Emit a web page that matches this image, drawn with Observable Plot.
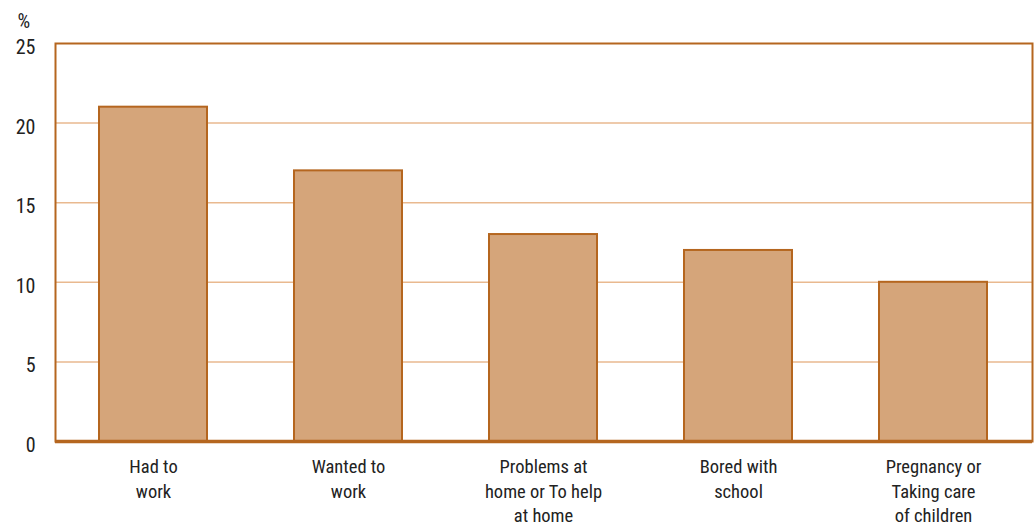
<!DOCTYPE html>
<html>
<head>
<meta charset="utf-8">
<script src="https://cdn.jsdelivr.net/npm/d3@7"></script>
<script src="https://cdn.jsdelivr.net/npm/@observablehq/plot@0.6"></script>
<style>
  html, body { margin: 0; padding: 0; background: #fff; }
  svg { display: block; }
</style>
</head>
<body>
<div id="chart"></div>
<script>
const categories = [
  "Had to\nwork",
  "Wanted to\nwork",
  "Problems at\nhome or To help\nat home",
  "Bored with\nschool",
  "Pregnancy or\nTaking care\nof children"
];
const values = [21, 17, 13, 12, 10];
const yTicks = [0, 5, 10, 15, 20, 25];
const unitLabel = "%";

const data = categories.map((c, i) => ({category: c, value: values[i]}));
const font = "'Liberation Sans Narrow', 'Roboto Condensed', 'Liberation Sans', sans-serif";

const chart = Plot.plot({
  width: 1034,
  height: 527,
  marginLeft: 55,
  marginRight: 2,
  marginTop: 43,
  marginBottom: 86,
  style: {fontFamily: font, color: "#222", background: "#fff"},
  x: {domain: categories, paddingInner: 0.445, paddingOuter: 0.2225, label: null},
  y: {domain: [0, 25], label: null},
  marks: [
    Plot.gridY(yTicks.filter(d => d > 0 && d < 25), {stroke: "#e9b98f", strokeOpacity: 1, strokeWidth: 1.5}),
    Plot.barY(data, {x: "category", y: "value", fill: "#d5a57a", stroke: "#b5661f", strokeWidth: 2}),
    Plot.frame({stroke: "#b5661f", strokeWidth: 2}),
    Plot.ruleY([0], {stroke: "#b5661f", strokeWidth: 3.5}),
    Plot.axisY(yTicks, {tickSize: 0, tickPadding: 20, dy: 4, fontSize: 20, fill: "#222"}),
    Plot.axisX({tickSize: 0, tickPadding: 14, fontSize: 18.5, lineHeight: 1.33, fill: "#222", label: null}),
    Plot.text([unitLabel], {frameAnchor: "top-left", dx: -38, dy: -30, fontSize: 20, textAnchor: "start", fill: "#222"})
  ]
});
document.getElementById("chart").appendChild(chart);
</script>
</body>
</html>
